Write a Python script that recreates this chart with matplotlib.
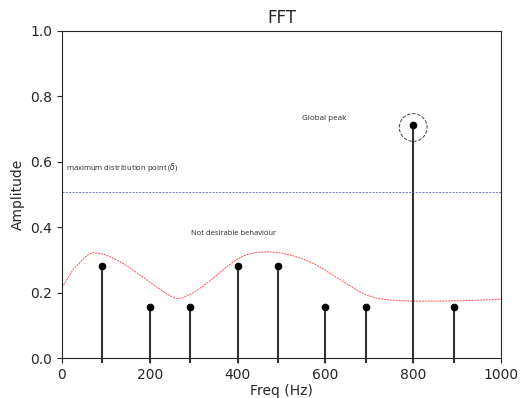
import numpy as np
import matplotlib.pyplot as plt

# stem data
freqs = [92, 200, 292, 400, 492, 600, 692, 800, 892]
amps = [0.28, 0.155, 0.155, 0.28, 0.28, 0.155, 0.155, 0.712, 0.155]

# red dashed envelope
env_f = [0, 25, 50, 60, 71, 85, 100, 125, 150, 175, 200, 215, 230, 245, 261, 275,
         300, 325, 350, 375, 400, 420, 443, 470, 500, 525, 550, 575, 595, 625,
         650, 675, 694, 720, 750, 800, 850, 900, 950, 1000]
env_a = [0.216, 0.27, 0.305, 0.316, 0.322, 0.32, 0.315, 0.3, 0.28, 0.256, 0.232,
         0.218, 0.204, 0.191, 0.182, 0.184, 0.2, 0.224, 0.25, 0.279, 0.303, 0.316,
         0.323, 0.325, 0.321, 0.313, 0.302, 0.288, 0.272, 0.247, 0.226, 0.205,
         0.192, 0.182, 0.177, 0.174, 0.174, 0.175, 0.177, 0.18]

delta = 0.508

dark = '#262626'
plt.rcParams.update({'text.color': dark, 'axes.labelcolor': dark,
                     'xtick.color': dark, 'ytick.color': dark,
                     'axes.edgecolor': dark})

fig = plt.figure(figsize=(5.26, 3.98), dpi=100)
ax = fig.add_axes([62 / 526, 1 - 358 / 398, 439 / 526, 327 / 398])

markerline, stemlines, baseline = ax.stem(freqs, amps, linefmt='-', markerfmt='o',
                                          basefmt=' ', bottom=-0.016)
plt.setp(stemlines, color='#333333', linewidth=1.5, clip_on=False)
plt.setp(markerline, color='black', markersize=4.5)

ax.plot(env_f, env_a, color='red', linewidth=0.7, alpha=0.7, dashes=(2, 1))
ax.axhline(delta, color='#5a6aa8', linewidth=0.6, dashes=(2.5, 1.5))

# dashed circle around the global peak
ax.scatter([800], [0.705], s=400, facecolors='none', edgecolors='#444444',
           linestyles='--', linewidths=0.7)

ax.text(547, 0.728, 'Global peak', fontsize=5.8, family='Open Sans')
ax.text(9, 0.575, r'maximum distribution point ($\delta$)', fontsize=5.5,
        family='Open Sans')
ax.text(294, 0.377, 'Not desirable behaviour', fontsize=5.5, family='Open Sans')

ax.set_xlim(0, 1000)
ax.set_ylim(0, 1)
ax.set_title('FFT')
ax.set_xlabel('Freq (Hz)', labelpad=1.5)
ax.set_ylabel('Amplitude')

fig.savefig('out.png', dpi=100)
